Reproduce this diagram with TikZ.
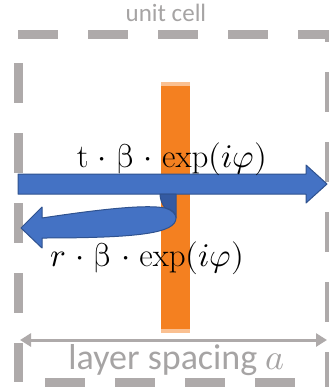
\documentclass[tikz,border=0pt]{standalone}
\usepackage{fontspec}
\usepackage{unicode-math}
\setmainfont{Carlito}
\setmathrm{Latin Modern Roman}
\usetikzlibrary{arrows.meta}

\definecolor{cellgray}{RGB}{174,170,170}
\definecolor{labelgray}{RGB}{166,164,164}
\definecolor{slaborange}{RGB}{244,128,32}
\definecolor{slablight}{RGB}{250,192,145}
\definecolor{beamblue}{RGB}{68,114,196}
\definecolor{beamedge}{RGB}{47,82,143}
\definecolor{beamback}{RGB}{52,90,162}

\newcommand{\wdot}{\mskip1mu\cdot\mskip1mu}

\begin{document}
\begin{tikzpicture}[x=1pt,y=-1pt,
    cellline/.style={cellgray,line width=9pt,dash pattern=on 40pt off 30pt},
    beam/.style={fill=beamblue,draw=beamedge,line width=1pt,line join=round},
    mathlabel/.style={anchor=base,inner sep=0pt,font=\fontsize{33}{40}\selectfont},
    graylabel/.style={anchor=base,inner sep=0pt,text=labelgray}]
  \useasboundingbox (0,0) rectangle (329,392);
  \clip (0,0) rectangle (329,392);
  % unit cell
  \coordinate (tl) at (18,34);
  \coordinate (tr) at (329.5,34);
  \coordinate (bl) at (18,382);
  \coordinate (br) at (329.5,382);
  \draw[cellline] (tl) -- (tr);
  \draw[cellline,dash phase=41pt] (tl) -- (bl);
  \draw[cellline,dash phase=43pt] (bl) -- (br);
  \draw[cellline,dash phase=32pt] (tr) -- (br);
  \node[graylabel,font=\fontsize{25}{30}\selectfont] (cell) at (166,21) {unit cell};
  % layer
  \fill[slaborange] (161,82) rectangle (190,333);
  \fill[slablight] (161,82) rectangle (190,86);
  \fill[slablight] (161,329) rectangle (190,333);
  % transmitted and reflected beams
  \draw[beam] (18,174) -- (306,174) -- (306,165) -- (327,184) -- (306,203) -- (306,194) -- (18,194) -- cycle;
  \draw[beam,fill=beamback] (160,194) -- (176,194) -- (176,218)
    .. controls (176,213) and (172,209) .. (165,208)
    .. controls (162,204) and (160,199) .. cycle;
  \draw[beam] (42,238) -- (42,248) -- (21,228) -- (42,207) -- (42,218)
    .. controls (95,210) and (145,204) .. (165,208)
    .. controls (172,210) and (176,214) .. (176,218)
    .. controls (176,233) and (140,238) .. cycle;
  \node[mathlabel] (tlab) at (172,167) {$\mathrm{t}\wdot\upbeta\wdot\exp(i\varphi)$};
  \node[mathlabel] (rlab) at (147.5,266) {$r\wdot\upbeta\wdot\exp(i\varphi)$};
  % spacing
  \coordinate (sl) at (20,340);
  \coordinate (sr) at (327,340);
  \draw[cellgray,line width=3pt,{Triangle[length=11pt,width=13pt]}-{Triangle[length=11pt,width=13pt]}] (sl) -- (sr);
  \node[graylabel,font=\fontsize{36}{43}\selectfont] (spacing) at (176.5,369) {layer spacing $a$};
\end{tikzpicture}
\end{document}
